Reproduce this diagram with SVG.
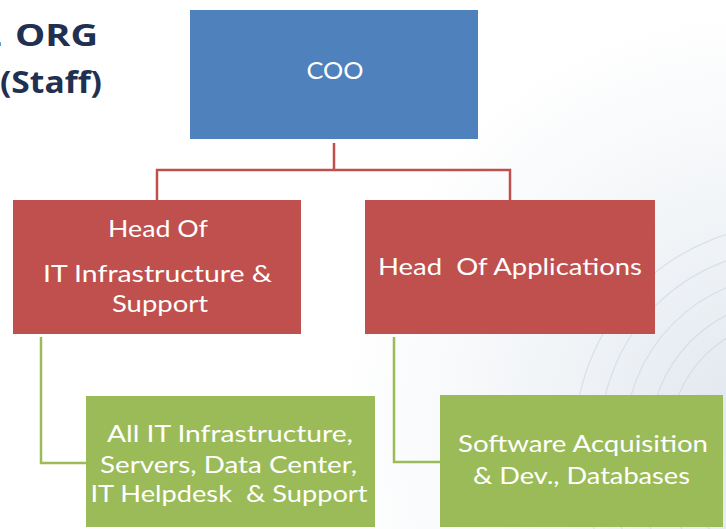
<svg xmlns="http://www.w3.org/2000/svg" width="726" height="529" viewBox="0 0 726 529">
<defs>
<radialGradient id="bg" cx="760" cy="430" r="420" gradientUnits="userSpaceOnUse">
<stop offset="0" stop-color="#dfe6ee"/>
<stop offset="0.5" stop-color="#f1f4f7"/>
<stop offset="1" stop-color="#ffffff"/>
</radialGradient>
<style>
.lbl{font-family:Lato,"Open Sans","Liberation Sans",sans-serif;font-size:24px;fill:#ffffff;text-anchor:middle}
.pre{white-space:pre}
.title{font-family:"Open Sans","Liberation Sans",sans-serif;font-size:31px;font-weight:bold;fill:#1f3050}
.red{stroke:#c0504d;stroke-width:2.5;fill:none}
.grn{stroke:#9bbb59;stroke-width:2.5;fill:none}
.arc{stroke:#c9d3de;stroke-width:1.2;fill:none;opacity:0.6}
</style>
</defs>
<rect x="0" y="0" width="726" height="529" fill="url(#bg)"/>
<g id="texture">
<circle class="arc" cx="790" cy="440" r="120"/>
<circle class="arc" cx="790" cy="440" r="140"/>
<circle class="arc" cx="790" cy="440" r="165"/>
<circle class="arc" cx="790" cy="440" r="190"/>
<circle class="arc" cx="790" cy="440" r="215"/>
</g>
<g id="title">
<text class="title" y="46"><tspan x="-16">L </tspan><tspan x="15" textLength="83" lengthAdjust="spacingAndGlyphs">ORG</tspan></text>
<text class="title" x="0" y="93" textLength="102" lengthAdjust="spacingAndGlyphs">(Staff)</text>
</g>
<g id="connectors">
<path class="red" d="M334 143 V170 M156 170 H511 M157 169 V200 M510 169 V200"/>
<path class="grn" d="M41 337 V463 H86"/>
<path class="grn" d="M394 337 V462 H440"/>
</g>
<g id="coo">
<rect x="190" y="10" width="288" height="129" fill="#4f81bd"/>
<text class="lbl" x="335" y="79" textLength="57" lengthAdjust="spacingAndGlyphs">COO</text>
</g>
<g id="head-infra">
<rect x="13" y="200" width="288" height="134" fill="#c0504d"/>
<text class="lbl" x="158" y="237" textLength="100" lengthAdjust="spacingAndGlyphs">Head Of</text>
<text class="lbl" x="157.5" y="282" textLength="229" lengthAdjust="spacingAndGlyphs">IT Infrastructure &amp;</text>
<text class="lbl" x="160" y="312" textLength="96" lengthAdjust="spacingAndGlyphs">Support</text>
</g>
<g id="head-apps">
<rect x="365" y="200" width="290" height="134" fill="#c0504d"/>
<text class="lbl pre" x="510" y="275" textLength="264" lengthAdjust="spacingAndGlyphs">Head  Of Applications</text>
</g>
<g id="infra-staff">
<rect x="86" y="396" width="289" height="131" fill="#9bbb59"/>
<text class="lbl" x="230" y="442" textLength="246" lengthAdjust="spacingAndGlyphs">All IT Infrastructure,</text>
<text class="lbl" x="228.5" y="473" textLength="257" lengthAdjust="spacingAndGlyphs">Servers, Data Center,</text>
<text class="lbl pre" x="229" y="502" textLength="277" lengthAdjust="spacingAndGlyphs">IT Helpdesk  &amp; Support</text>
</g>
<g id="apps-staff">
<rect x="440" y="395" width="283" height="132" fill="#9bbb59"/>
<text class="lbl" x="583" y="452" textLength="250" lengthAdjust="spacingAndGlyphs">Software Acquisition</text>
<text class="lbl" x="581.5" y="484" textLength="217" lengthAdjust="spacingAndGlyphs">&amp; Dev., Databases</text>
</g>
</svg>
